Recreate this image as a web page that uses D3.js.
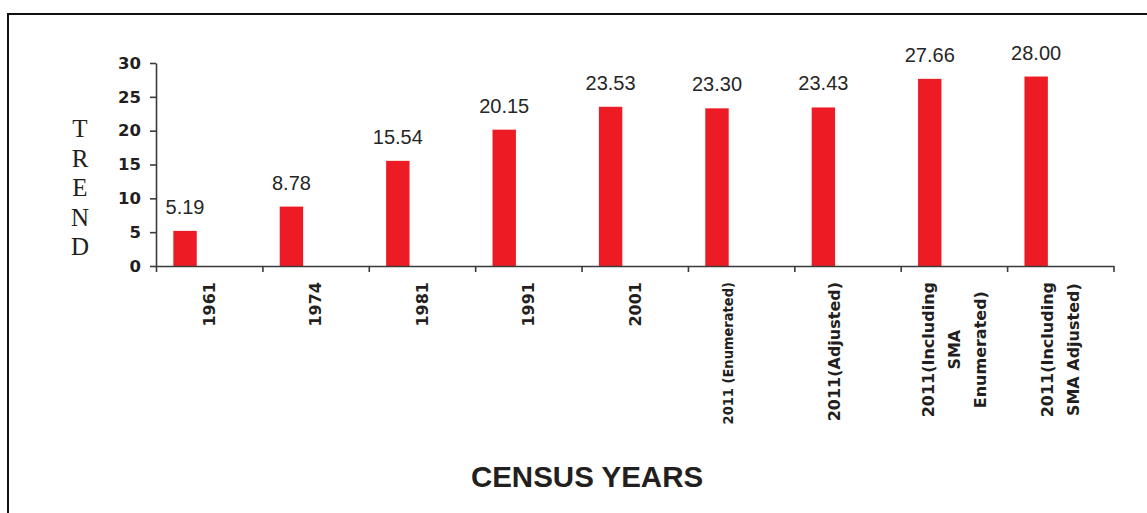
<!DOCTYPE html>
<html>
<head>
<meta charset="utf-8">
<script src="https://cdn.jsdelivr.net/npm/d3@7"></script>
<style>
  html, body { margin: 0; padding: 0; background: #fff; }
  svg { display: block; }
</style>
</head>
<body>
<svg id="chart" width="1147" height="513"></svg>
<script>
// ---- data ----
const categories = ["1961", "1974", "1981", "1991", "2001",
  "2011 (Enumerated)", "2011(Adjusted)", "2011(Including SMA Enumerated)", "2011(Including SMA Adjusted)"];
const categoryLabelLines = [
  ["1961"], ["1974"], ["1981"], ["1991"], ["2001"],
  ["2011 (Enumerated)", ""], ["2011(Adjusted)", ""],
  ["2011(Including", "SMA", "Enumerated)"],
  ["2011(Including", "SMA Adjusted)"]
];
const trendValues = [5.19, 8.78, 15.54, 20.15, 23.53, 23.30, 23.43, 27.66, 28.00];
const valueLabels = ["5.19", "8.78", "15.54", "20.15", "23.53", "23.30", "23.43", "27.66", "28.00"];
const yTicks = [0, 5, 10, 15, 20, 25, 30];
const yAxisTitle = "TREND";
const xAxisTitle = "CENSUS YEARS";

// ---- layout ----
const svg = d3.select("#chart");
const plot = { left: 156, right: 1113.5, top: 63, bottom: 266 };
const ink = "#231f20";
const axisColor = "#3a3a3a";

// frame (only top and left edges visible in the picture)
svg.append("rect").attr("x", 8).attr("y", 14).attr("width", 1300).attr("height", 700)
  .attr("fill", "none").attr("stroke", "#111").attr("stroke-width", 2);

const x = d3.scaleBand().domain(categories).range([plot.left, plot.right]).paddingInner(0).paddingOuter(0);
const y = d3.scaleLinear().domain([0, 30]).range([plot.bottom, plot.top]);
const bw = x.bandwidth();

// bars
svg.append("g").selectAll("rect").data(trendValues).join("rect")
  .attr("x", (d, i) => x(categories[i]) + bw * 0.163)
  .attr("width", bw * 0.22)
  .attr("y", d => y(d))
  .attr("height", d => y(0) - y(d))
  .attr("fill", "#ed1c24");

// value labels
svg.append("g").selectAll("text").data(trendValues).join("text")
  .attr("x", (d, i) => x(categories[i]) + bw * 0.163 + bw * 0.11)
  .attr("y", d => y(d) - 17)
  .attr("text-anchor", "middle")
  .attr("font-family", "'Liberation Sans', Arial, sans-serif")
  .attr("font-size", 20)
  .attr("fill", "#262626")
  .text((d, i) => valueLabels[i]);

// y axis
const yAxis = svg.append("g").attr("transform", `translate(${plot.left},0)`)
  .call(d3.axisLeft(y).tickValues(yTicks).tickSize(6).tickPadding(9).tickSizeOuter(0));
yAxis.select(".domain").attr("stroke", axisColor).attr("stroke-width", 1.6);
yAxis.selectAll(".tick line").attr("stroke", axisColor).attr("stroke-width", 1.6);
yAxis.selectAll(".tick text")
  .attr("font-family", "'DejaVu Sans', sans-serif").attr("font-weight", "bold")
  .attr("font-size", 16.5).attr("fill", ink);

// x axis (ticks at category boundaries)
const xb = d3.scaleLinear().domain([0, categories.length]).range([plot.left, plot.right]);
const xAxis = svg.append("g").attr("transform", `translate(0,${plot.bottom})`)
  .call(d3.axisBottom(xb).tickValues(d3.range(categories.length + 1)).tickSize(6).tickFormat("").tickSizeOuter(0));
xAxis.select(".domain").attr("stroke", axisColor).attr("stroke-width", 1.6);
xAxis.selectAll(".tick line").attr("stroke", axisColor).attr("stroke-width", 1.6);

// category labels (rotated)
const lineGap = 26;
const labelTop = 282;
categories.forEach((c, i) => {
  const lines = categoryLabelLines[i];
  const cx = x(c) + bw / 2;
  const n = lines.length;
  const g = svg.append("g");
  const texts = lines.map((ln, j) => {
    const lx = cx + (j - (n - 1) / 2) * lineGap;
    return g.append("text")
      .attr("transform", `translate(${lx},0) rotate(-90)`)
      .attr("dy", "0.36em")
      .attr("text-anchor", "middle")
      .attr("font-family", i === 5 ? "'DejaVu Sans Condensed', 'DejaVu Sans', sans-serif" : "'DejaVu Sans', sans-serif")
      .attr("font-weight", "bold")
      .attr("font-size", i === 5 ? 14.5 : 16)
      .attr("fill", ink)
      .text(ln);
  });
  const maxLen = d3.max(texts, t => t.node().getComputedTextLength());
  texts.forEach(t => t.attr("x", -(labelTop + maxLen / 2)));
});

// y axis title: stacked letters
const yt = svg.append("text")
  .attr("font-family", "'Liberation Serif', 'Times New Roman', serif")
  .attr("font-size", 25)
  .attr("fill", ink)
  .attr("text-anchor", "middle");
yAxisTitle.split("").forEach((ch, i) => {
  yt.append("tspan").attr("x", 80).attr("y", 137 + i * 29.6).text(ch);
});

// x axis title
svg.append("text")
  .attr("x", 587).attr("y", 487)
  .attr("text-anchor", "middle")
  .attr("font-family", "'Liberation Sans', Arial, sans-serif")
  .attr("font-weight", "bold")
  .attr("font-size", 29.5)
  .attr("fill", ink)
  .text(xAxisTitle);
</script>
</body>
</html>
